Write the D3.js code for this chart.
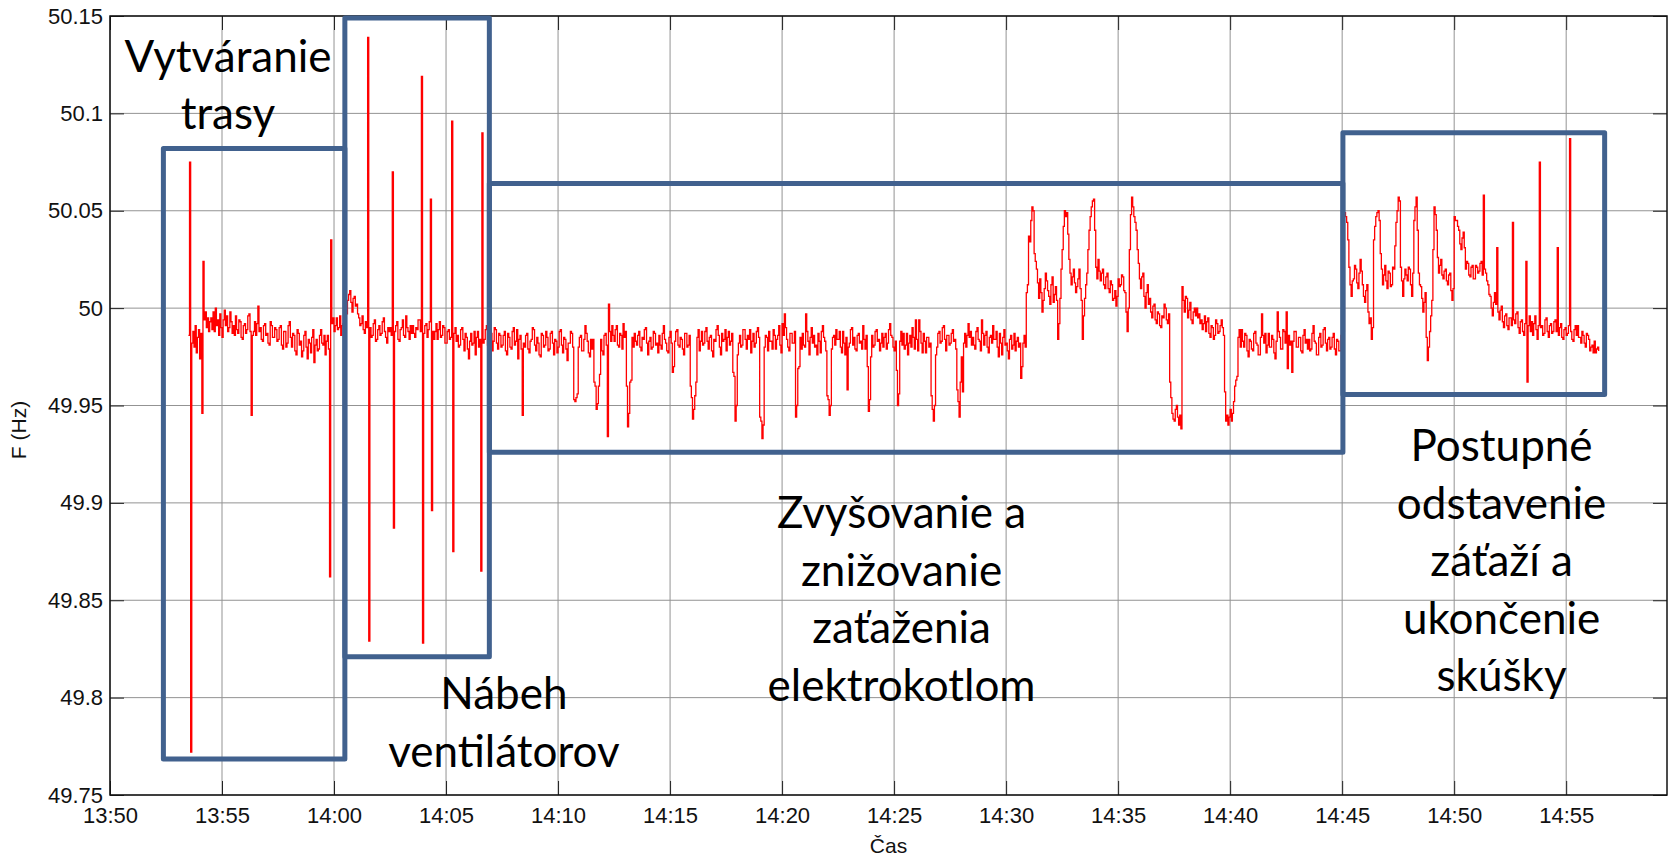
<!DOCTYPE html>
<html>
<head>
<meta charset="utf-8">
<title>Frekvencia počas skúšky</title>
<script src="https://d3js.org/d3.v7.min.js"></script>
<style>
  body { margin: 0; background: white; }
  svg { display: block; background: white; }
  .tick-label { font-family: "Liberation Sans", Arial, sans-serif; font-size: 22px; fill: #111; }
  .axis-title { font-family: "Liberation Sans", Arial, sans-serif; font-size: 21px; fill: #111; }
  .grid line { stroke: #939393; stroke-width: 1px; }
  .tick line { stroke: #222; stroke-width: 1px; }
  .frame { fill: none; stroke: #111; stroke-width: 1.5px; }
  .signal { fill: none; stroke: #ff0000; stroke-width: 1.3px; }
  .phase-box { fill: none; stroke: #41618e; stroke-width: 5px; stroke-linejoin: round; }
  .phase-label { font-family: Lato, "Open Sans", sans-serif; font-size: 44px; fill: #000; text-anchor: middle; }
</style>
</head>
<body>
<svg></svg>
<script>
// data: frequency, one value every 3 s, in mHz off 50 Hz
var sampleStart = "13:53:30",
    sampleStepSec = 3;

// one row = one minute
var freqDevMilliHz = [
  -14, 75, -228, -18, -12, -20, -9, -23, -15, -11, -26, -13, -54, 24, -6, -2, -10, -5, -12, -7,           // 13:53:30
  -5, -11, -2, -12, 0, -9, -6, -14, -3, -10, -15, -6, -1, -9, -4, -12, -10, -2, -7, -13,                   // 13:54:30
  -9, -14, -4, -11, -13, -6, -7, -15, -16, -9, -8, -13, -11, -4, -3, -12, -55, -14, -12, -7,               // 13:55:30
  -14, -8, 1, -12, -10, -16, -17, -9, -8, -14, -13, -18, -19, -7, -9, -15, -15, -10, -11, -17,             // 13:56:30
  -16, -10, -9, -19, -21, -12, -12, -20, -18, -9, -7, -15, -20, -13, -14, -22, -24, -11, -13, -19,         // 13:57:30
  -17, -25, -22, -14, -12, -20, -26, -16, -18, -23, -15, -11, -28, -19, -16, -22, -21, -14, -11, -18,      // 13:58:30
  -19, -14, -24, -17, -14, -21, -138, 35, -8, -5, -12, -9, -5, -11, -10, -4, -14, -9, -8, -12,             // 13:59:30
  -8, -3, 4, 7, 9, 3, -2, 5, 6, 1, 2, -3, -5, -9, -8, -4, -11, -13, -7, -10,                               // 14:00:30
  139, -171, -10, -15, -14, -8, -6, -17, -16, -11, -9, -14, -13, -7, -5, -12, -15, -18, -10, -12,          // 14:01:30
  -10, -14, 70, -113, -12, -9, -7, -16, -17, -11, -10, -6, -14, -15, -4, -10, -12, -16, -9, -13,           // 14:02:30
  -9, -13, -15, -10, -11, -6, -6, -12, 119, -172, -13, -9, -8, -15, -11, -7, 56, -104, -12, -16,           // 14:03:30
  -12, -8, -16, -11, -7, -15, -14, -9, -10, -18, -18, -12, -11, -16, -15, 96, -125, -13, -10, -17,         // 14:04:30
  -14, -20, -19, -11, -10, -16, -22, -13, -15, -21, -26, -17, -13, -19, -18, -12, -24, -15, -12, -20,      // 14:05:30
  -16, -135, 90, -18, -16, -11, -9, -19, -20, -12, -13, -22, -17, -10, -11, -18, -21, -13, -14, -20,       // 14:06:30
  -19, -14, -12, -22, -24, -13, -15, -20, -21, -12, -10, -19, -17, -11, -26, -16, -14, -21, -55, -18,      // 14:07:30
  -20, -14, -13, -21, -23, -17, -16, -10, -11, -19, -22, -15, -18, -24, -25, -13, -14, -20, -19, -12,      // 14:08:30
  -15, -22, -21, -13, -12, -18, -24, -16, -17, -23, -20, -12, -11, -19, -23, -15, -16, -21, -27, -18,      // 14:09:30
  -18, -12, -13, -20, -47, -48, -46, -44, -20, -15, -14, -22, -22, -16, -9, -13, -17, -23, -25, -16,       // 14:10:30
  -21, -16, -38, -40, -52, -49, -40, -34, -16, -22, -24, -14, -13, -19, -66, 2, -12, -17, -9, -14,         // 14:11:30
  -17, -11, -9, -19, -20, -13, -14, -21, -8, -15, -12, -40, -61, -54, -38, -37, -15, -20, -13, -17,        // 14:12:30
  -19, -14, -12, -20, -22, -15, -16, -11, -10, -18, -24, -17, -15, -21, -20, -12, -13, -19, -18, -23,      // 14:13:30
  -14, -19, -21, -13, -9, -16, -18, -22, -23, -15, -12, -18, -33, -30, -17, -12, -11, -19, -20, -15,       // 14:14:30
  -16, -21, -24, -13, -13, -20, -19, -14, -40, -46, -57, -52, -45, -38, -15, -11, -22, -17, -12, -19,      // 14:15:30
  -18, -12, -10, -17, -21, -15, -14, -22, -25, -16, -17, -11, -9, -14, -20, -24, -13, -17, -16, -11,       // 14:16:30
  -22, -15, -12, -19, -17, -13, -33, -35, -58, -50, -24, -18, -14, -20, -19, -11, -11, -16, -21, -14,      // 14:17:30
  -16, -11, -23, -17, -13, -20, -18, -12, -10, -15, -56, -58, -67, -60, -20, -14, -15, -22, -12, -17,      // 14:18:30
  -17, -21, -11, -14, -21, -16, -14, -9, -19, -23, -8, -14, -3, -10, -16, -20, -22, -13, -13, -18,         // 14:19:30
  -18, -12, -56, -50, -31, -30, -15, -21, -13, -19, -20, -3, -12, -17, -24, -15, -10, -18, -14, -20,       // 14:20:30
  -19, -24, -13, -17, -23, -12, -9, -15, -17, -22, -45, -47, -55, -50, -21, -15, -14, -19, -11, -16,       // 14:21:30
  -16, -12, -20, -23, -12, -18, -24, -15, -42, -20, -18, -11, -10, -19, -15, -21, -22, -14, -13, -18,      // 14:22:30
  -17, -21, -9, -16, -21, -14, -30, -53, -47, -25, -14, -20, -19, -12, -11, -17, -16, -22, -18, -13,       // 14:23:30
  -20, -15, -13, -21, -18, -11, -8, -14, -15, -20, -22, -17, -32, -50, -44, -17, -12, -19, -13, -21,       // 14:24:30
  -19, -13, -24, -18, -14, -20, -10, -15, -21, -6, -16, -22, -6, -12, -18, -23, -13, -17, -23, -15,        // 14:25:30
  -15, -20, -18, -45, -52, -58, -50, -24, -20, -13, -12, -18, -17, -10, -9, -16, -22, -14, -14, -19,       // 14:26:30
  -18, -13, -11, -17, -16, -21, -42, -48, -56, -38, -25, -43, -18, -13, -20, -14, -8, -15, -12, -19,       // 14:27:30
  -15, -19, -21, -12, -10, -16, -17, -22, -6, -13, -19, -14, -12, -20, -23, -15, -14, -18, -9, -16,        // 14:28:30
  -16, -12, -20, -25, -13, -18, -24, -15, -11, -19, -18, -22, -26, -16, -14, -21, -19, -13, -22, -17,      // 14:29:30
  -15, -20, -18, -36, -30, -18, -14, -20, 8, 12, 37, 34, 45, 52, 50, 28, 24, 20, 13, 5,                    // 14:30:30
  15, 8, -2, 4, 10, 18, 14, 9, 6, 2, 12, 16, 3, 7, 11, 4, -16, -8, 5, 20,                                  // 14:31:30
  30, 42, 50, 47, 49, 38, 25, 18, 12, 16, 20, 13, 8, 11, 15, 20, 10, 4, -16, -4,                           // 14:32:30
  5, 12, 18, 30, 40, 47, 52, 55, 56, 40, 21, 15, 25, 19, 14, 18, 20, 12, 10, 16,                           // 14:33:30
  18, 10, 8, 14, 12, 4, 5, 9, 1, 6, 15, 11, 12, 17, 16, 9, 8, -2, -12, 0,                                  // 14:34:30
  30, 48, 57, 52, 47, 44, 40, 30, 23, 15, 10, 16, 18, 6, 0, 8, 12, 2, 5, -2,                               // 14:35:30
  -5, 1, 2, -6, -8, -2, -3, -9, -10, -4, -5, 2, 0, -6, -8, -3, -38, -46, -54, -57,                         // 14:36:30
  -58, -52, -50, -56, -60, -55, -62, 11, 4, -2, 6, 5, -5, -1, 3, -6, -8, -2, 0, -4,                        // 14:37:30
  0, -5, -3, -8, -6, -11, -8, -4, -12, -7, -5, -13, -15, -9, -10, -16, -14, -6, -8, -13,                   // 14:38:30
  -12, -9, -6, -10, -14, -43, -58, -55, -60, -56, -52, -58, -54, -48, -40, -37, -35, -15, -11, -20,        // 14:39:30
  -11, -17, -20, -13, -14, -22, -25, -16, -17, -21, -22, -13, -12, -18, -19, -24, -24, -15, -3, -14,       // 14:40:30
  -18, -13, -23, -19, -13, -20, -20, -14, -16, -23, -26, -17, -2, -12, -15, -21, -21, -11, -12, -18,       // 14:41:30
  -2, -31, -14, -19, -17, -33, -17, -12, -12, -20, -20, -15, -15, -22, -23, -14, -11, -18, -16, -21,       // 14:42:30
  -16, -22, -21, -13, -9, -17, -18, -24, -24, -15, -13, -20, -19, -11, -10, -18, -22, -16, -15, -21,       // 14:43:30
  -20, -15, -13, -21, -24, -16, -17, -22, -22, -14, -18, -12, 49, 47, 44, 35, 21, 12, 6, 14,               // 14:44:30
  15, 22, 20, 13, 10, 18, 25, 19, 12, 6, 3, 9, 12, -2, -8, -5, -16, -10, 35, 42,                           // 14:45:30
  47, 49, 50, 45, 28, 20, 12, 17, 22, 14, 10, 19, 18, 11, 12, 21, 20, 32, 44, 50,                          // 14:46:30
  57, 55, 21, 14, 6, 15, 20, 17, 14, 21, 20, 12, 6, 18, 45, 52, 57, 40, 18, 12,                            // 14:47:30
  11, 5, -2, 3, 8, -15, -27, -20, -12, -4, 4, 30, 52, 48, 40, 26, 18, 22, 25, 17,                          // 14:48:30
  15, 19, 20, 14, 12, 17, 18, 9, 4, 10, 47, 45, 45, 42, 40, 33, 30, 36, 39, 31,                            // 14:49:30
  20, 24, 23, 17, 16, 21, 22, 15, 15, 22, 21, 18, 19, 23, 24, 17, 58, 20, 18, 14,                          // 14:50:30
  12, 7, 6, 0, -4, 3, 8, 2, 31, -2, -6, -1, 1, -7, -10, -4, -3, -9, -11, -5,                               // 14:51:30
  -5, -9, 44, -6, -8, -3, -2, -10, -13, -7, -6, -12, -14, -8, 24, -38, -9, -4, -12, -7,                    // 14:52:30
  -14, -8, -4, -11, -16, -9, 75, -10, -9, -14, -13, -6, -5, -12, -15, -9, -8, -13, -12, -7,                // 14:53:30
  -6, -12, 31, -14, -10, -8, -15, -16, -11, -10, -14, -13, -9, 87, -12, -16, -17, -11, -9, -14,            // 14:54:30
  -9, -15, -15, -18, -12, -14, -18, -20, -13, -14, -16, -22, -20, -19, -23, -17, -23, -21, -20, -22        // 14:55:30
];

// axis ticks
var xTickLabels = ["13:50", "13:55", "14:00", "14:05", "14:10", "14:15", "14:20",
                   "14:25", "14:30", "14:35", "14:40", "14:45", "14:50", "14:55"];
var yTickLabels = ["49.75", "49.8", "49.85", "49.9", "49.95", "50", "50.05", "50.1", "50.15"];
var xDomain = ["13:50:00", "14:59:30"];
var yDomain = [49.75, 50.15];

// test phases drawn as boxes (time span, frequency span)
var phaseStart = ["13:52:23", "14:00:29", "14:06:56", "14:45:02"];
var phaseEnd = ["14:00:29", "14:06:56", "14:45:02", "14:56:43"];
var phaseTop = [50.082, 50.149, 50.064, 50.090];
var phaseBottom = [49.7685, 49.821, 49.926, 49.9556];

// phase captions, anchored at (time, frequency of first line)
var captionLines = [
  ["Vytváranie", "trasy"],
  ["Nábeh", "ventilátorov"],
  ["Zvyšovanie a", "znižovanie", "zaťaženia", "elektrokotlom"],
  ["Postupné", "odstavenie", "záťaží a", "ukončenie", "skúšky"]
];
var captionTime = ["13:55:16", "14:07:35", "14:25:20", "14:52:07"];
var captionFreq = [50.1213, 49.7941, 49.8869, 49.9213];

//begin: layout config.
var svgWidth = 1669,
    svgHeight = 856,
    margin = {top: 16, right: 2, bottom: 61, left: 110},
    plotRight = svgWidth - margin.right,
    plotBottom = svgHeight - margin.bottom,
    tickLen = 14,
    captionLineHeight = 57.5;
//end: layout config.

var parseClock = d3.timeParse("%H:%M:%S");

var x = d3.scaleTime()
  .domain(xDomain.map(parseClock))
  .range([margin.left, plotRight]);

var y = d3.scaleLinear()
  .domain(yDomain)
  .range([plotBottom, margin.top]);

var xTicks = xTickLabels.map(function(s){ return parseClock(s + ":00"); });
var yTicks = yTickLabels.map(Number);

var t0 = parseClock(sampleStart).getTime();
var series = freqDevMilliHz.map(function(v, i){
  return {t: new Date(t0 + i*sampleStepSec*1000), f: 50 + v/1000};
});

var svg = d3.select("svg")
  .attr("width", svgWidth)
  .attr("height", svgHeight);

svg.append("defs").append("clipPath")
    .attr("id", "plot-clip")
  .append("rect")
    .attr("x", margin.left)
    .attr("y", margin.top)
    .attr("width", plotRight - margin.left)
    .attr("height", plotBottom - margin.top);

// grid
var grid = svg.append("g").classed("grid", true);
grid.selectAll(".vgrid")
  .data(xTicks)
  .enter().append("line")
    .attr("x1", function(d){ return x(d); })
    .attr("x2", function(d){ return x(d); })
    .attr("y1", margin.top)
    .attr("y2", plotBottom);
grid.selectAll(".hgrid")
  .data(yTicks)
  .enter().append("line")
    .attr("x1", margin.left)
    .attr("x2", plotRight)
    .attr("y1", function(d){ return y(d); })
    .attr("y2", function(d){ return y(d); });

// frequency trace
var line = d3.line()
  .x(function(d){ return x(d.t); })
  .y(function(d){ return y(d.f); })
  .curve(d3.curveStepAfter);

svg.append("path")
  .datum(series)
  .classed("signal", true)
  .attr("clip-path", "url(#plot-clip)")
  .attr("d", line);

// axes, ticks pointing inward on all four sides
function styleAxis(g) {
  g.attr("font-size", null).attr("font-family", null);
  g.select(".domain").remove();
  g.selectAll("text").classed("tick-label", true);
}

svg.append("g")
  .attr("transform", "translate(0," + plotBottom + ")")
  .call(d3.axisBottom(x).tickValues(xTicks).tickFormat(d3.timeFormat("%H:%M"))
    .tickSize(-tickLen).tickPadding(12))
  .call(styleAxis);

svg.append("g")
  .attr("transform", "translate(0," + margin.top + ")")
  .call(d3.axisTop(x).tickValues(xTicks).tickFormat("").tickSize(-tickLen))
  .call(styleAxis);

svg.append("g")
  .attr("transform", "translate(" + margin.left + ",0)")
  .call(d3.axisLeft(y).tickValues(yTicks)
    .tickFormat(function(d, i){ return yTickLabels[i]; })
    .tickSize(-tickLen).tickPadding(7))
  .call(styleAxis);

svg.append("g")
  .attr("transform", "translate(" + plotRight + ",0)")
  .call(d3.axisRight(y).tickValues(yTicks).tickFormat("").tickSize(-tickLen))
  .call(styleAxis);

svg.append("rect")
  .classed("frame", true)
  .attr("x", margin.left)
  .attr("y", margin.top)
  .attr("width", plotRight - margin.left)
  .attr("height", plotBottom - margin.top);

// phase boxes
svg.append("g").selectAll(".phase-box")
  .data(d3.range(phaseStart.length))
  .enter().append("rect")
    .classed("phase-box", true)
    .attr("x", function(i){ return x(parseClock(phaseStart[i])); })
    .attr("y", function(i){ return y(phaseTop[i]); })
    .attr("width", function(i){ return x(parseClock(phaseEnd[i])) - x(parseClock(phaseStart[i])); })
    .attr("height", function(i){ return y(phaseBottom[i]) - y(phaseTop[i]); });

// captions
var captions = svg.append("g").selectAll(".phase-label")
  .data(captionLines)
  .enter().append("text")
    .classed("phase-label", true);

captions.selectAll("tspan")
  .data(function(lines, i){
    return lines.map(function(s){ return {text: s, i: i}; });
  })
  .enter().append("tspan")
    .attr("x", function(d){ return x(parseClock(captionTime[d.i])); })
    .attr("y", function(d, k){ return y(captionFreq[d.i]) + k*captionLineHeight; })
    .text(function(d){ return d.text; });

// axis titles
svg.append("text")
  .classed("axis-title", true)
  .attr("text-anchor", "middle")
  .attr("transform", "translate(" + [25.5, 430] + ") rotate(-90)")
  .text("F (Hz)");

svg.append("text")
  .classed("axis-title", true)
  .attr("text-anchor", "middle")
  .attr("x", (margin.left + plotRight)/2)
  .attr("y", 853)
  .text("Čas");
</script>
</body>
</html>
